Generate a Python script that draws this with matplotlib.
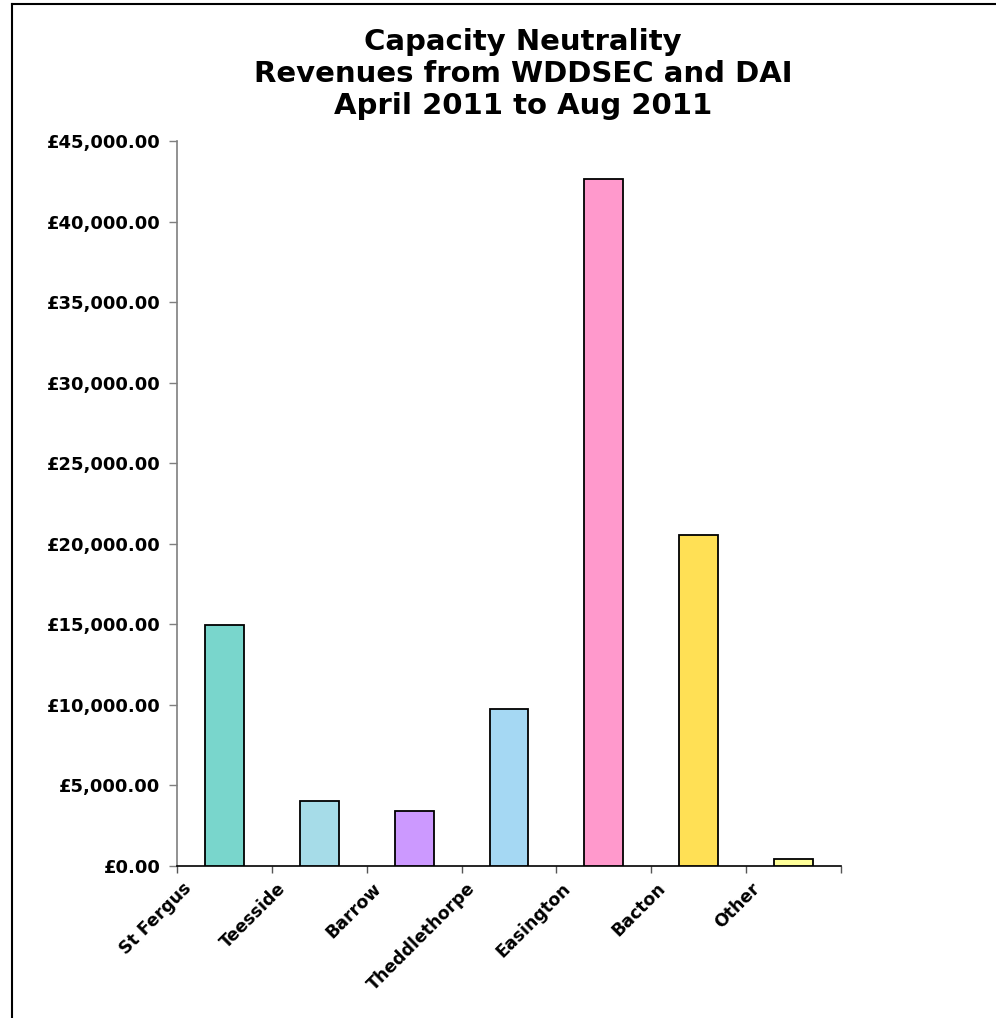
import matplotlib.pyplot as plt
from matplotlib.lines import Line2D
from matplotlib.ticker import FuncFormatter
import matplotlib.transforms as mtransforms

# --- data ---
terminals = ["St Fergus", "Teesside", "Barrow", "Theddlethorpe",
             "Easington", "Bacton", "Other"]
revenues = [14950, 4050, 3410, 9750, 42660, 20550, 455]
bar_colours = ["#79D6CC", "#A6DCE8", "#CC99FF", "#A5D8F3",
               "#FF99CC", "#FFE055", "#FFFF99"]
y_ticks = [0, 5000, 10000, 15000, 20000, 25000, 30000, 35000, 40000, 45000]
title_lines = ["Capacity Neutrality",
               "Revenues from WDDSEC and DAI",
               "April 2011 to Aug 2011"]

plt.rcParams['font.family'] = ['DejaVu Sans']

fig = plt.figure(figsize=(9.96, 10.18), dpi=100)
ax = fig.add_axes([0.1777, 0.1493, 0.6667, 0.7122])

positions = list(range(len(terminals)))
ax.bar(positions, revenues, width=0.41, color=bar_colours,
       edgecolor="black", linewidth=1.3, zorder=3)

ax.set_xlim(-0.5, len(terminals) - 0.5)
ax.set_ylim(0, 45000)

# y axis: pound labels
ax.set_yticks(y_ticks)
ax.yaxis.set_major_formatter(FuncFormatter(lambda v, p: f"£{v:,.2f}"))
ax.tick_params(axis="y", direction="out", length=6, width=1,
               color="#7f7f7f", labelsize=13, pad=6)
for lab in ax.get_yticklabels():
    lab.set_fontweight("bold")

# x axis: tick marks between categories, labels at the centres
ax.set_xticks([p - 0.5 for p in positions] + [len(terminals) - 0.5])
ax.set_xticklabels([])
ax.set_xticks(positions, minor=True)
ax.set_xticklabels(terminals, minor=True, rotation=45, ha="right",
                   va="center", rotation_mode="anchor",
                   fontsize=12.5, fontweight="bold")
ax.tick_params(axis="x", which="major", direction="out", length=5,
               width=1, color="#555555")
ax.tick_params(axis="x", which="minor", length=0, pad=14)
shift = mtransforms.ScaledTranslation(-0.36, 0, fig.dpi_scale_trans)
for lab in ax.get_xticklabels(minor=True):
    lab.set_transform(lab.get_transform() + shift)

for side in ["top", "right"]:
    ax.spines[side].set_visible(False)
ax.spines["left"].set_color("#7f7f7f")
ax.spines["left"].set_linewidth(1.2)
ax.spines["bottom"].set_color("black")
ax.spines["bottom"].set_linewidth(1.2)

fig.text(0.525, 0.9725, "\n".join(title_lines), ha="center", va="top",
         fontsize=21, fontweight="bold", linespacing=1.19)

# chart frame: only the left and top edges show in the reference
fig.add_artist(Line2D([0.0125, 0.0125], [0.0, 0.996], color="black",
                      linewidth=1.5, transform=fig.transFigure))
fig.add_artist(Line2D([0.0125, 1.0], [0.996, 0.996], color="black",
                      linewidth=1.5, transform=fig.transFigure))

fig.savefig("out.png", dpi=100)
